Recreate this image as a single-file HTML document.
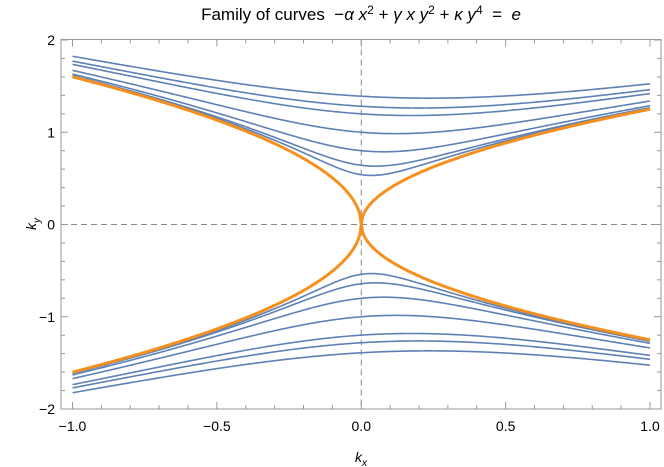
<!DOCTYPE html>
<html><head><meta charset="utf-8"><style>
html,body{margin:0;padding:0;background:#fff;}
svg{display:block;font-family:"Liberation Sans",sans-serif;}
</style></head><body>
<svg id="chart" width="664" height="467" viewBox="0 0 664 467" xmlns="http://www.w3.org/2000/svg">
<text x="361" y="20" text-anchor="middle" font-size="17" fill="#000" xml:space="preserve">Family of curves  −<tspan font-style="italic">α x</tspan><tspan font-size="12" dy="-6">2</tspan><tspan dy="6"> + </tspan><tspan font-style="italic">γ x y</tspan><tspan font-size="12" dy="-6">2</tspan><tspan dy="6"> + </tspan><tspan font-style="italic">κ y</tspan><tspan font-size="12" dy="-6">4</tspan><tspan dy="6">  =  </tspan><tspan font-style="italic">e</tspan></text>
<g id="grid"></g>
<g id="curves"></g>
<rect x="61" y="39.5" width="600" height="369.5" fill="none" stroke="#999" stroke-width="1"/>
<g id="ticks"></g>
<text x="361" y="462" text-anchor="middle" font-size="14" font-style="italic">k<tspan font-size="10" dy="4">x</tspan></text>
<text transform="translate(36,224) rotate(-90)" text-anchor="middle" font-size="14" font-style="italic">k<tspan font-size="10" dy="4">y</tspan></text>
</svg>
<script>
// parameters and contour levels
const alpha = 4;
const gamma = 1;
const kappa = 1;
const blueLevels = [0.085, 0.17, 0.41, 1.0, 2.07, 2.7, 3.74];
const orangeLevels = [0];
const xTickValues = [-1, -0.5, 0, 0.5, 1];
const xTickLabels = ["−1.0", "−0.5", "0.0", "0.5", "1.0"];
const yTickValues = [-2, -1, 0, 1, 2];
const yTickLabels = ["−2", "−1", "0", "1", "2"];

const NS = "http://www.w3.org/2000/svg";
const X0 = 72.5, X1 = 650, Y0 = 409, Y1 = 40;
function sx(x){ return X0 + (x + 1) / 2 * (X1 - X0); }
function sy(y){ return Y0 - (y + 2) / 4 * (Y0 - Y1); }
function mk(tag, attrs, parent){ const el = document.createElementNS(NS, tag); for (const k in attrs) el.setAttribute(k, attrs[k]); parent.appendChild(el); return el; }

const grid = document.getElementById('grid');
let g1 = mk('line', {x1: sx(0), x2: sx(0), y1: 39.5, y2: 409, stroke: '#888', 'stroke-dasharray': '6,4', 'stroke-width': 1}, grid);


let g2 = mk('line', {x1: 61, x2: 661, y1: sy(0), y2: sy(0), stroke: '#888', 'stroke-dasharray': '6,4', 'stroke-width': 1}, grid);



function ysq(x, e){ return (-gamma * x + Math.sqrt(gamma*gamma*x*x + 4*kappa*(e + alpha*x*x))) / (2*kappa); }
function curvePath(e, sign){
  let d = '';
  const N = 400;
  for (let i = 0; i <= N; i++){
    const x = -1 + 2 * i / N;
    const y = sign * Math.sqrt(Math.max(0, ysq(x, e)));
    d += (i ? 'L' : 'M') + sx(x).toFixed(2) + ',' + sy(y).toFixed(2);
  }
  return d;
}
const curves = document.getElementById('curves');
blueLevels.forEach((e) => {
  [1, -1].forEach((s) => {
    const p = mk('path', {d: curvePath(e, s), fill: 'none', stroke: '#5E81B5', 'stroke-width': 1.6}, curves);
    
    
  });
});
orangeLevels.forEach((e) => {
  [1, -1].forEach((s) => {
    const p = mk('path', {d: curvePath(e, s), fill: 'none', stroke: '#F5901E', 'stroke-width': 3}, curves);
    
    
  });
});

const ticks = document.getElementById('ticks');
for (let i = 0; i <= 20; i++){
  const x = -1 + i * 0.1;
  const major = i % 5 === 0;
  const L = major ? 7 : 4;
  mk('line', {x1: sx(x), x2: sx(x), y1: 409, y2: 409 - L, stroke: '#999'}, ticks);
  mk('line', {x1: sx(x), x2: sx(x), y1: 39.5, y2: 39.5 + L, stroke: '#999'}, ticks);
}
for (let i = 0; i <= 20; i++){
  const y = -2 + i * 0.2;
  const major = i % 5 === 0;
  const L = major ? 7 : 4;
  mk('line', {x1: 61, x2: 61 + L, y1: sy(y), y2: sy(y), stroke: '#999'}, ticks);
  mk('line', {x1: 661, x2: 661 - L, y1: sy(y), y2: sy(y), stroke: '#999'}, ticks);
}
xTickValues.forEach((v, i) => {
  const t = mk('text', {x: sx(v), y: 431, 'text-anchor': 'middle', 'font-size': 14}, ticks);
  t.textContent = xTickLabels[i];
  
  
});
yTickValues.forEach((v, i) => {
  const t = mk('text', {x: 55, y: sy(v) + 5, 'text-anchor': 'end', 'font-size': 14}, ticks);
  t.textContent = yTickLabels[i];
  
  
});
</script>
</body></html>
